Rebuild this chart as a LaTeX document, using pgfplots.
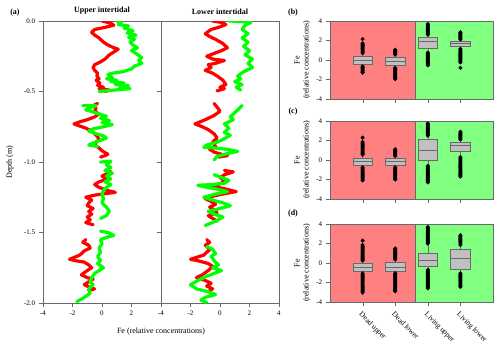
\documentclass[border=0pt]{standalone}
\usepackage{fontspec}
\setmainfont{Liberation Serif}
\usepackage{pgfplots}
\pgfplotsset{compat=1.18}
\usepgfplotslibrary{statistics}
\definecolor{FeRed}{rgb}{1,0,0}
\definecolor{FeGreen}{rgb}{0,1,0}
\definecolor{BgRed}{RGB}{255,128,128}
\definecolor{BgGreen}{RGB}{128,255,128}
\definecolor{BoxGray}{RGB}{192,192,192}
\definecolor{AxGray}{RGB}{105,105,105}
\pgfplotsset{
  common/.style={scale only axis, axis line style={AxGray}, tick style={AxGray},
    tick align=outside, xtick pos=left, ytick pos=left,
    ticklabel style={font=\fontsize{7}{8}\selectfont, /pgf/number format/assume math mode=true}},
  prof/.style={common, width=118pt, height=282pt, xmin=-4, xmax=4, ymin=-2, ymax=0,
    ytick={-2,-1.5,-1,-0.5,0},
    yticklabel style={/pgf/number format/fixed, /pgf/number format/fixed zerofill, /pgf/number format/precision=1},
    title style={font=\bfseries\fontsize{8}{9}\selectfont, yshift=-3pt}},
  fe/.style={line width=3.2pt, line join=round, line cap=round},
  bx/.style={common, width=163pt, height=78pt, xmin=0, xmax=5, ymin=-4, ymax=4,
    ytick={-4,-2,0,2,4}, xtick={1,2,3,4}, xticklabels={}, axis on top,
    ylabel={Fe\\(relative concentrations)},
    ylabel style={align=center, font=\fontsize{8}{9}\selectfont, at={(axis description cs:-0.17,0.5)}, anchor=center}},
  bxs/.style={draw=AxGray, fill=BoxGray, mark=*, mark size=1.8pt, mark options={draw=black, fill=black},
    boxplot/draw direction=y, boxplot/box extend=0.6, boxplot/whisker extend=0,
    boxplot/every median/.style={draw=AxGray, line width=0.8pt}}
}
\begin{document}
\begin{tikzpicture}
\useasboundingbox (0,0) rectangle (500pt,-349pt);

% (a) upper intertidal
\begin{axis}[prof, at={(43pt,-21pt)}, anchor=north west, xtick={-4,-2,0,2}, title={Upper intertidal}]
\addplot[fe, FeRed] coordinates {(0.0,0)(0.6,-0.015)(0.8,-0.03)(0.2,-0.045)(-0.5,-0.06)(-0.7,-0.08)(-0.5,-0.1)(-0.2,-0.12)(0.1,-0.15)(0.4,-0.17)(0.8,-0.19)(1.1,-0.2)(0.8,-0.22)(0.5,-0.24)(0.2,-0.27)(-0.1,-0.29)(-0.5,-0.31)(-0.6,-0.33)(-0.5,-0.35)(-0.3,-0.37)(-0.35,-0.39)(-0.2,-0.41)(-0.4,-0.42)(-0.15,-0.44)(-0.3,-0.455)(0.1,-0.47)(-0.2,-0.48)(0.5,-0.49)(0.2,-0.5)};
\addplot[fe, FeRed] coordinates {(-0.3,-0.585)(-0.6,-0.6)(-0.4,-0.62)(-0.5,-0.64)(-0.2,-0.66)(-0.5,-0.68)(-1.0,-0.7)(-1.5,-0.715)(-1.9,-0.73)(-1.5,-0.745)(-1.1,-0.76)(-0.7,-0.78)(-0.5,-0.8)(-0.3,-0.82)(-0.2,-0.84)(-0.4,-0.86)(-0.5,-0.88)(-0.2,-0.9)(0.0,-0.92)(0.4,-0.945)(0.2,-0.955)(-0.1,-0.965)};
\addplot[fe, FeRed] coordinates {(0.2,-1.06)(0.6,-1.07)(0.3,-1.085)(0.0,-1.1)(0.4,-1.12)(-0.2,-1.14)(-0.5,-1.16)(-0.2,-1.18)(0.3,-1.2)(0.9,-1.215)(0.2,-1.225)(-0.5,-1.235)(-1.1,-1.25)(-0.7,-1.27)(-0.9,-1.29)(-1.0,-1.31)(-0.6,-1.33)(-0.9,-1.35)(-0.7,-1.37)(-1.0,-1.39)(-0.8,-1.41)(-1.1,-1.43)(-0.6,-1.445)};
\addplot[fe, FeRed] coordinates {(-1.1,-1.55)(-1.3,-1.57)(-0.9,-1.59)(-0.8,-1.61)(-1.2,-1.63)(-1.5,-1.66)(-2.2,-1.69)(-1.8,-1.7)(-1.2,-1.71)(-0.9,-1.73)(-0.7,-1.75)(-1.0,-1.77)(-1.4,-1.8)(-1.0,-1.82)(-0.6,-1.83)(-0.9,-1.85)(-1.2,-1.87)(-0.8,-1.89)(-0.5,-1.9)(-0.9,-1.91)};
\addplot[fe, FeGreen] coordinates {(1.0,0)(1.3,-0.01)(1.1,-0.025)(1.8,-0.035)(1.5,-0.05)(2.1,-0.07)(1.7,-0.085)(2.3,-0.1)(1.8,-0.115)(2.2,-0.13)(1.9,-0.15)(2.1,-0.17)(2.4,-0.19)(2.0,-0.21)(2.3,-0.23)(2.7,-0.26)(2.5,-0.28)(2.7,-0.3)(2.2,-0.32)(2.0,-0.34)(1.4,-0.36)(0.7,-0.37)(0.4,-0.38)(0.7,-0.4)(0.3,-0.41)(1.0,-0.42)(0.6,-0.43)(1.5,-0.44)(0.9,-0.45)(1.8,-0.46)(1.2,-0.47)(1.9,-0.48)(0.8,-0.49)(-0.2,-0.5)};
\addplot[fe, FeGreen] coordinates {(-1.3,-0.6)(-0.4,-0.6)(-0.8,-0.615)(-1.1,-0.63)(-0.6,-0.645)(-0.2,-0.66)(0.3,-0.675)(-0.1,-0.69)(0.5,-0.705)(0.0,-0.72)(0.7,-0.735)(0.1,-0.75)(-0.6,-0.765)(-0.9,-0.78)(-0.4,-0.8)(0.1,-0.815)(0.3,-0.83)(-0.2,-0.85)(-0.6,-0.865)(-0.9,-0.88)(-0.3,-0.89)};
\addplot[fe, FeGreen] coordinates {(-0.1,-1.0)(0.6,-0.995)(0.3,-1.02)(0.6,-1.04)(0.2,-1.06)(0.7,-1.08)(0.3,-1.1)(0.6,-1.12)(0.2,-1.14)(0.6,-1.16)(0.3,-1.18)(0.1,-1.2)(0.0,-1.23)(0.1,-1.26)(0.0,-1.29)(0.3,-1.32)(0.5,-1.35)(0.3,-1.38)(-0.1,-1.4)};
\addplot[fe, FeGreen] coordinates {(-0.1,-1.49)(0.4,-1.5)(0.8,-1.52)(0.3,-1.535)(-0.1,-1.55)(0.0,-1.58)(-0.2,-1.61)(-0.1,-1.64)(-0.3,-1.67)(-0.1,-1.7)(-0.3,-1.72)(0.1,-1.75)(-0.2,-1.77)(-0.5,-1.79)(-0.7,-1.82)(-0.8,-1.85)(-0.6,-1.87)(-0.9,-1.9)(-0.8,-1.93)(-1.2,-1.96)(-1.7,-1.99)};
\end{axis}

% (a) lower intertidal
\begin{axis}[prof, at={(161pt,-21pt)}, anchor=north west, xtick={-4,-2,0,2,4}, yticklabels={}, title={Lower intertidal}]
\addplot[fe, FeRed] coordinates {(-0.5,0)(0.1,-0.01)(0.4,-0.025)(-0.1,-0.045)(-0.6,-0.06)(-1.0,-0.09)(-0.7,-0.11)(-0.3,-0.13)(0.2,-0.16)(0.5,-0.19)(0.1,-0.21)(-0.4,-0.23)(-0.9,-0.25)(-0.5,-0.27)(0.3,-0.28)(-0.3,-0.3)(-0.8,-0.31)(-0.6,-0.33)(-1.0,-0.35)(-0.5,-0.37)(-0.2,-0.39)(0.2,-0.42)(0.4,-0.45)(0.0,-0.47)(0.3,-0.48)(-0.2,-0.495)};
\addplot[fe, FeRed] coordinates {(-0.4,-0.585)(-0.2,-0.61)(0.0,-0.64)(-0.4,-0.67)(-1.0,-0.7)(-1.7,-0.73)(-1.2,-0.75)(-0.8,-0.77)(-0.4,-0.8)(-0.2,-0.83)(-0.5,-0.86)(-0.3,-0.89)(-0.7,-0.91)(-0.4,-0.93)(0.1,-0.945)(0.5,-0.955)(-0.1,-0.965)};
\addplot[fe, FeRed] coordinates {(0.3,-1.06)(0.9,-1.07)(0.3,-1.09)(0.0,-1.11)(0.3,-1.13)(0.1,-1.15)(-0.5,-1.17)(0.3,-1.19)(1.1,-1.21)(0.3,-1.225)(-0.4,-1.24)(-1.0,-1.26)(-0.6,-1.28)(-0.3,-1.3)(-0.7,-1.32)(-0.4,-1.34)(-0.2,-1.36)(-0.8,-1.38)(-0.5,-1.4)(-0.2,-1.42)};
\addplot[fe, FeRed] coordinates {(-0.9,-1.55)(-0.7,-1.57)(-1.0,-1.59)(-0.7,-1.62)(-1.1,-1.66)(-2.0,-1.69)(-1.5,-1.7)(-0.8,-1.72)(-0.5,-1.74)(-0.8,-1.77)(-1.2,-1.8)(-1.6,-1.82)(-1.0,-1.84)(-0.6,-1.86)(-0.9,-1.88)(-0.5,-1.9)(-0.8,-1.92)};
\addplot[fe, FeGreen] coordinates {(0.6,0)(1.5,-0.005)(2.1,-0.01)(1.7,-0.03)(1.5,-0.06)(1.9,-0.09)(1.5,-0.12)(1.9,-0.15)(1.6,-0.18)(2.0,-0.21)(1.7,-0.24)(2.2,-0.27)(1.9,-0.3)(2.2,-0.33)(1.6,-0.36)(1.2,-0.39)(1.4,-0.41)(1.0,-0.43)(1.5,-0.45)(1.1,-0.47)(1.4,-0.49)};
\addplot[fe, FeGreen] coordinates {(1.5,-0.6)(1.3,-0.62)(1.0,-0.65)(0.7,-0.68)(0.9,-0.7)(0.3,-0.73)(0.6,-0.76)(0.3,-0.79)(0.7,-0.81)(0.2,-0.84)(-0.2,-0.86)(-0.9,-0.88)(-1.1,-0.895)(-0.4,-0.9)(0.5,-0.91)(1.2,-0.925)(0.5,-0.94)(-0.2,-0.96)(-0.4,-0.985)};
\addplot[fe, FeGreen] coordinates {(-0.4,-1.09)(0.1,-1.11)(0.6,-1.13)(0.3,-1.15)(-0.5,-1.16)(-1.5,-1.165)(-0.9,-1.18)(-0.3,-1.19)(0.5,-1.21)(-0.4,-1.23)(-1.1,-1.25)(-0.5,-1.27)(0.2,-1.29)(0.7,-1.31)(0.0,-1.33)(-0.8,-1.35)(-0.4,-1.37)(0.2,-1.39)(-0.3,-1.42)(-1.0,-1.45)};
\addplot[fe, FeGreen] coordinates {(-0.9,-1.6)(-0.5,-1.62)(-0.3,-1.65)(-0.6,-1.67)(-0.4,-1.7)(-0.1,-1.73)(-0.5,-1.75)(0.1,-1.77)(-0.4,-1.79)(-0.9,-1.81)(-1.5,-1.84)(-2.0,-1.87)(-1.6,-1.9)(-0.8,-1.92)(-0.3,-1.94)(-1.0,-1.96)(-1.3,-1.98)(-0.9,-1.995)};
\end{axis}

\node[font=\bfseries\fontsize{8}{9}\selectfont] at (15pt,-13pt) {(a)};
\node[rotate=90, font=\fontsize{8}{9}\selectfont] at (10pt,-162pt) {Depth (m)};
\node[font=\fontsize{8}{9}\selectfont] at (161pt,-332pt) {Fe (relative concentrations)};

% (b)
\begin{axis}[bx, at={(330pt,-21pt)}, anchor=north west]
\addplot[fill=BgRed, draw=AxGray] coordinates {(0,-4)(2.6,-4)(2.6,4)(0,4)} -- cycle;
\addplot[fill=BgGreen, draw=AxGray] coordinates {(2.6,-4)(5,-4)(5,4)(2.6,4)} -- cycle;
\addplot[bxs, boxplot prepared={draw position=1, lower whisker=-0.55, lower quartile=-0.4, median=0.0, upper quartile=0.35, upper whisker=0.6}]
  table[row sep=\\, y index=0] {v\\0.7\\0.8\\0.9\\1.0\\1.1\\1.2\\1.3\\1.4\\1.5\\1.6\\1.7\\2.15\\-0.65\\-0.75\\-0.85\\-0.95\\-1.05\\-1.15\\-1.25\\-1.3\\};
\addplot[bxs, boxplot prepared={draw position=2, lower whisker=-0.7, lower quartile=-0.5, median=-0.1, upper quartile=0.25, upper whisker=0.45}]
  table[row sep=\\, y index=0] {v\\0.55\\0.65\\0.75\\0.85\\0.95\\1.05\\-0.8\\-0.9\\-1.0\\-1.1\\-1.2\\-1.3\\-1.4\\-1.5\\-1.6\\-1.7\\-1.8\\-1.9\\-1.95\\};
\addplot[bxs, boxplot prepared={draw position=3, lower whisker=0.85, lower quartile=1.2, median=1.95, upper quartile=2.3, upper whisker=2.5}]
  table[row sep=\\, y index=0] {v\\2.6\\2.7\\2.8\\2.9\\3.0\\3.1\\3.2\\3.3\\3.4\\3.5\\3.6\\3.7\\0.75\\0.65\\0.55\\0.45\\0.35\\0.25\\0.15\\0.05\\-0.05\\-0.15\\-0.25\\-0.35\\-0.45\\-0.55\\};
\addplot[bxs, boxplot prepared={draw position=4, lower whisker=1.25, lower quartile=1.45, median=1.7, upper quartile=1.9, upper whisker=2.0}]
  table[row sep=\\, y index=0] {v\\2.1\\2.2\\2.3\\2.4\\2.5\\2.6\\2.7\\2.8\\2.85\\1.15\\1.05\\0.95\\0.85\\0.75\\0.65\\0.55\\0.45\\0.35\\0.25\\0.15\\0.05\\-0.05\\-0.15\\-0.25\\-0.8\\};
\end{axis}

% (c)
\begin{axis}[bx, at={(330pt,-121pt)}, anchor=north west]
\addplot[fill=BgRed, draw=AxGray] coordinates {(0,-4)(2.6,-4)(2.6,4)(0,4)} -- cycle;
\addplot[fill=BgGreen, draw=AxGray] coordinates {(2.6,-4)(5,-4)(5,4)(2.6,4)} -- cycle;
\addplot[bxs, boxplot prepared={draw position=1, lower whisker=-0.65, lower quartile=-0.5, median=-0.15, upper quartile=0.17, upper whisker=0.45}]
  table[row sep=\\, y index=0] {v\\0.55\\0.65\\0.75\\0.85\\0.95\\1.05\\1.15\\1.25\\1.35\\1.45\\1.55\\1.65\\1.75\\1.85\\2.3\\-0.75\\-0.85\\-0.95\\-1.05\\-1.15\\-1.25\\-1.35\\-1.45\\-1.55\\-1.65\\-1.75\\-1.85\\-1.95\\-2.05\\-2.1\\};
\addplot[bxs, boxplot prepared={draw position=2, lower whisker=-0.65, lower quartile=-0.5, median=-0.12, upper quartile=0.17, upper whisker=0.3}]
  table[row sep=\\, y index=0] {v\\0.4\\0.5\\0.6\\0.7\\0.8\\0.9\\1.0\\1.1\\-0.75\\-0.85\\-0.95\\-1.05\\-1.15\\-1.25\\-1.35\\-1.45\\-1.55\\-1.65\\-1.75\\-1.85\\-1.95\\-2.0\\};
\addplot[bxs, boxplot prepared={draw position=3, lower whisker=-0.5, lower quartile=-0.05, median=0.95, upper quartile=2.1, upper whisker=2.4}]
  table[row sep=\\, y index=0] {v\\2.5\\2.6\\2.7\\2.8\\2.9\\3.0\\3.1\\3.2\\3.3\\3.4\\3.5\\3.6\\3.7\\3.75\\-0.6\\-0.7\\-0.8\\-0.9\\-1.0\\-1.1\\-1.2\\-1.3\\-1.4\\-1.5\\-1.6\\-1.7\\-1.8\\-1.9\\-2.0\\-2.1\\-2.2\\-2.3\\};
\addplot[bxs, boxplot prepared={draw position=4, lower whisker=0.4, lower quartile=0.9, median=1.45, upper quartile=1.8, upper whisker=2.0}]
  table[row sep=\\, y index=0] {v\\2.1\\2.2\\2.3\\2.4\\2.5\\2.6\\2.7\\2.8\\2.9\\0.3\\0.2\\0.1\\0.0\\-0.1\\-0.2\\-0.3\\-0.4\\-0.5\\-0.6\\-0.7\\-0.8\\-0.9\\-1.0\\-1.1\\-1.2\\-1.3\\-1.4\\-1.5\\-1.6\\-1.7\\};
\end{axis}

% (d)
\begin{axis}[bx, at={(330pt,-224pt)}, anchor=north west,
  xticklabels={Dead upper, Dead lower, Living upper, Living lower},
  xticklabel style={rotate=-45, anchor=north west, font=\fontsize{7.5}{8}\selectfont}]
\addplot[fill=BgRed, draw=AxGray] coordinates {(0,-4)(2.6,-4)(2.6,4)(0,4)} -- cycle;
\addplot[fill=BgGreen, draw=AxGray] coordinates {(2.6,-4)(5,-4)(5,4)(2.6,4)} -- cycle;
\addplot[bxs, boxplot prepared={draw position=1, lower whisker=-0.95, lower quartile=-0.8, median=-0.45, upper quartile=-0.05, upper whisker=0.15}]
  table[row sep=\\, y index=0] {v\\0.25\\0.35\\0.45\\0.55\\0.65\\0.75\\0.85\\0.95\\1.05\\1.15\\1.25\\1.35\\1.45\\1.55\\1.65\\1.75\\1.85\\2.3\\-1.05\\-1.15\\-1.25\\-1.35\\-1.45\\-1.55\\-1.65\\-1.75\\-1.85\\-1.95\\-2.05\\-2.15\\-2.25\\-2.35\\-2.45\\-2.55\\-2.65\\-2.75\\-2.85\\-2.95\\-3.05\\};
\addplot[bxs, boxplot prepared={draw position=2, lower whisker=-0.95, lower quartile=-0.8, median=-0.4, upper quartile=0.07, upper whisker=0.25}]
  table[row sep=\\, y index=0] {v\\0.35\\0.45\\0.55\\0.65\\0.75\\0.85\\0.95\\1.05\\1.15\\1.25\\1.35\\1.45\\1.5\\-1.05\\-1.15\\-1.25\\-1.35\\-1.45\\-1.55\\-1.65\\-1.75\\-1.85\\-1.95\\-2.05\\-2.15\\-2.25\\-2.35\\-2.45\\-2.55\\-2.65\\-2.75\\-2.85\\-2.9\\};
\addplot[bxs, boxplot prepared={draw position=3, lower whisker=-0.6, lower quartile=-0.3, median=0.3, upper quartile=1.05, upper whisker=1.9}]
  table[row sep=\\, y index=0] {v\\2.0\\2.1\\2.2\\2.3\\2.4\\2.5\\2.6\\2.7\\2.8\\2.9\\3.0\\3.1\\3.2\\3.3\\3.4\\3.5\\3.6\\3.7\\-0.7\\-0.8\\-0.9\\-1.0\\-1.1\\-1.2\\-1.3\\-1.4\\-1.5\\-1.6\\-1.7\\-1.8\\-1.9\\-2.0\\-2.1\\-2.2\\-2.3\\-2.4\\-2.5\\-2.6\\};
\addplot[bxs, boxplot prepared={draw position=4, lower whisker=-0.95, lower quartile=-0.65, median=0.45, upper quartile=1.45, upper whisker=1.75}]
  table[row sep=\\, y index=0] {v\\1.85\\1.95\\2.05\\2.15\\2.25\\2.35\\2.45\\2.55\\2.65\\2.75\\2.85\\-1.05\\-1.15\\-1.25\\-1.35\\-1.45\\-1.55\\-1.65\\-1.75\\-1.85\\-1.95\\-2.05\\-2.15\\-2.25\\-2.35\\-2.45\\};
\end{axis}

\node[font=\bfseries\fontsize{8}{9}\selectfont] at (293pt,-13pt) {(b)};
\node[font=\bfseries\fontsize{8}{9}\selectfont] at (293pt,-112pt) {(c)};
\node[font=\bfseries\fontsize{8}{9}\selectfont] at (293pt,-214pt) {(d)};
\end{tikzpicture}
\end{document}
